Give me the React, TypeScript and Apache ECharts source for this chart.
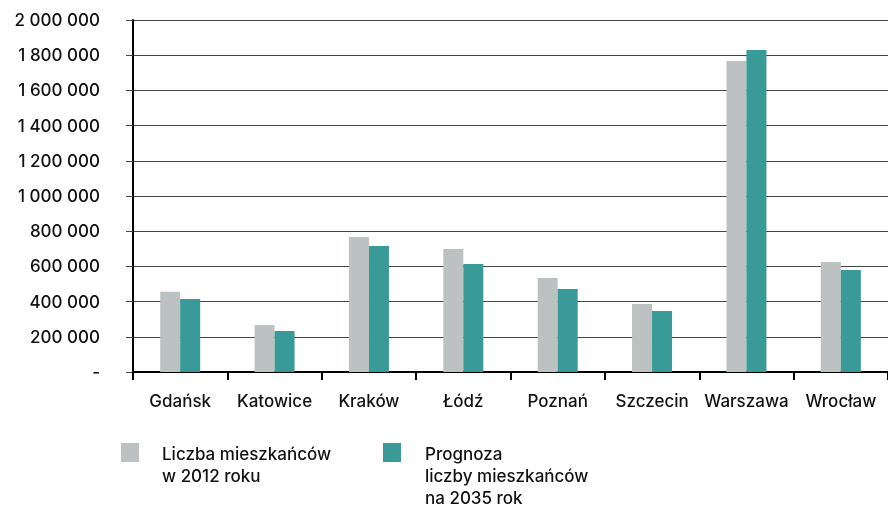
import React, { useEffect, useRef } from "react";
import * as echarts from "echarts";

const cities = ["Gdańsk", "Katowice", "Kraków", "Łódź", "Poznań", "Szczecin", "Warszawa", "Wrocław"];
const pop2012 = [456000, 267000, 767000, 699000, 534000, 386000, 1767000, 625000];
const pop2035 = [415000, 233000, 716000, 614000, 472000, 347000, 1830000, 580000];
const seriesNames = ["Liczba mieszkańców\nw 2012 roku", "Prognoza\nliczby mieszkańców\nna 2035 rok"];
const colors = ["#BCC2C1", "#3A9A98"];
const yMin = 0;
const yMax = 2000000;
const yStep = 200000;

const FONT = "Inter, 'Noto Sans', sans-serif";

function fmt(v: number): string {
  if (v === 0) return "-";
  return String(v).replace(/\B(?=(\d{3})+(?!\d))/g, " ");
}

export default function App() {
  const ref = useRef<HTMLDivElement>(null);
  useEffect(() => {
    if (!ref.current) return;
    const chart = echarts.init(ref.current, null, { renderer: "svg" });
    chart.setOption({
      animation: false,
      textStyle: { fontFamily: FONT },
      grid: { left: 133, right: 0, top: 20, bottom: 138, containLabel: false },
      xAxis: {
        type: "category",
        data: cities,
        axisLine: { lineStyle: { color: "#000", width: 2 } },
        axisTick: { show: true, alignWithLabel: false, length: 8, lineStyle: { color: "#000", width: 2 } },
        axisLabel: { interval: 0, color: "#111", fontSize: 17, fontWeight: 500, margin: 20, fontFamily: FONT },
      },
      yAxis: {
        type: "value",
        min: yMin,
        max: yMax,
        interval: yStep,
        axisLine: { show: true, lineStyle: { color: "#000", width: 2 } },
        axisTick: { show: true, length: 7, lineStyle: { color: "#444", width: 1 } },
        splitLine: { show: true, lineStyle: { color: "#444", width: 1 } },
        axisLabel: { color: "#111", fontSize: 17, fontWeight: 500, margin: 33, fontFamily: FONT, formatter: (v: number) => fmt(v) },
      },
      series: [
        { name: seriesNames[0], type: "bar", data: pop2012, barWidth: 20, barGap: "0%", itemStyle: { color: colors[0] } },
        { name: seriesNames[1], type: "bar", data: pop2035, barWidth: 20, barGap: "0%", itemStyle: { color: colors[1] } },
      ],
      graphic: [
        { type: "rect", left: 121, top: 443, shape: { width: 18, height: 19 }, style: { fill: colors[0] } },
        {
          type: "text", left: 162, top: 443,
          style: { text: seriesNames[0], fontSize: 17, fontWeight: 500, lineHeight: 22, fill: "#111", fontFamily: FONT },
        },
        { type: "rect", left: 383, top: 443, shape: { width: 18, height: 19 }, style: { fill: colors[1] } },
        {
          type: "text", left: 425, top: 443,
          style: { text: seriesNames[1], fontSize: 17, fontWeight: 500, lineHeight: 22, fill: "#111", fontFamily: FONT },
        },
      ],
    });
    return () => chart.dispose();
  }, []);
  return <div ref={ref} style={{ position: "fixed", left: 0, top: 0, width: 888, height: 510 }} />;
}
